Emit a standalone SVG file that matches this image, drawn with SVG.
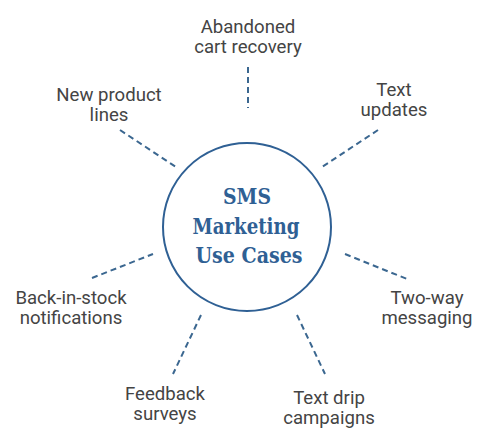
<svg xmlns="http://www.w3.org/2000/svg" width="497" height="448" viewBox="0 0 497 448">
<style>
.lbl{font-family:Roboto,"Liberation Sans",sans-serif;font-size:18.6px;fill:#444;text-anchor:middle}
.ttl{font-family:"DejaVu Serif","Liberation Serif",serif;font-weight:bold;font-size:22px;fill:#2f6094;text-anchor:middle}
.con line{stroke:#3b6790;stroke-width:2;stroke-dasharray:6 4;fill:none}
</style>
<rect width="497" height="448" fill="#fff"/>
<g id="center">
<circle cx="247" cy="227" r="84" fill="#fff" stroke="#2f6094" stroke-width="2"/>
<text class="ttl" x="247" y="204" textLength="48" lengthAdjust="spacingAndGlyphs">SMS</text>
<text class="ttl" x="246" y="233.5" textLength="107" lengthAdjust="spacingAndGlyphs">Marketing</text>
<text class="ttl" x="249" y="263" textLength="107" lengthAdjust="spacingAndGlyphs">Use Cases</text>
</g>
<g id="connectors" class="con">
<line x1="248" y1="67" x2="248" y2="108"/>
<line x1="120" y1="130" x2="176" y2="167"/>
<line x1="378" y1="130" x2="322" y2="167"/>
<line x1="92" y1="278" x2="153" y2="254"/>
<line x1="345" y1="254" x2="407" y2="279"/>
<line x1="201" y1="315" x2="173" y2="374"/>
<line x1="297" y1="315" x2="325" y2="374"/>
</g>
<g id="abandoned"><text class="lbl" x="248" y="33">Abandoned</text><text class="lbl" x="248" y="53">cart recovery</text></g>
<g id="new-product"><text class="lbl" x="109" y="101">New product</text><text class="lbl" x="109" y="121">lines</text></g>
<g id="text-updates"><text class="lbl" x="394" y="96">Text</text><text class="lbl" x="394" y="116">updates</text></g>
<g id="back-in-stock"><text class="lbl" x="71" y="304">Back-in-stock</text><text class="lbl" x="71" y="324">notifications</text></g>
<g id="two-way"><text class="lbl" x="427" y="304">Two-way</text><text class="lbl" x="427" y="324">messaging</text></g>
<g id="feedback"><text class="lbl" x="165" y="400">Feedback</text><text class="lbl" x="165" y="420">surveys</text></g>
<g id="text-drip"><text class="lbl" x="329" y="404">Text drip</text><text class="lbl" x="329" y="424">campaigns</text></g>
</svg>
